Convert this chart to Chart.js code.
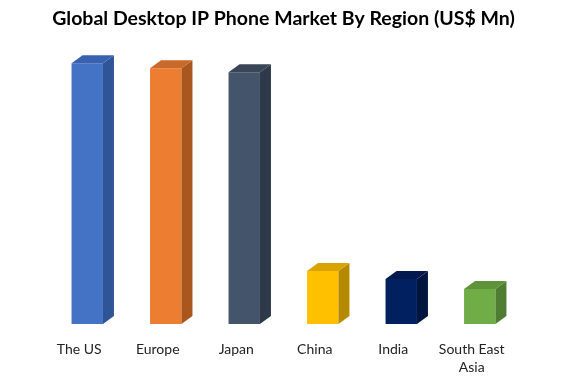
<!DOCTYPE html>
<html><head><meta charset="utf-8">
<script src="https://cdn.jsdelivr.net/npm/chart.js@4"></script>
<style>html,body{margin:0;padding:0;background:#fff}</style>
</head><body>
<canvas id="c" width="576" height="384"></canvas>
<script>
const categories = ['The US', 'Europe', 'Japan', 'China', 'India', ['South East', 'Asia']];
const values = [261, 256, 252, 53, 45, 35];
const titleText = 'Global Desktop IP Phone Market By Region (US$ Mn)';

const frontColors = ['#4472C4', '#ED7D31', '#44546A', '#FFC000', '#002060', '#70AD47'];
const sideColors  = ['#2F5597', '#A9561F', '#2E3949', '#B68A00', '#00163F', '#4F7D31'];
const topColors   = ['#3862B0', '#C9692A', '#394657', '#D9A400', '#001A4F', '#5E9339'];
const DEPTH_X = 11, DEPTH_Y = 8;

const threeD = {
  id: 'threeD',
  afterDatasetsDraw(chart) {
    const ctx = chart.ctx;
    const meta = chart.getDatasetMeta(0);
    meta.data.forEach((bar, i) => {
      const p = bar.getProps(['x', 'y', 'base', 'width'], true);
      const l = p.x - p.width / 2, r = p.x + p.width / 2;
      ctx.save();
      ctx.fillStyle = sideColors[i];
      ctx.beginPath();
      ctx.moveTo(r, p.y); ctx.lineTo(r + DEPTH_X, p.y - DEPTH_Y);
      ctx.lineTo(r + DEPTH_X, p.base - DEPTH_Y); ctx.lineTo(r, p.base);
      ctx.closePath(); ctx.fill();
      ctx.fillStyle = topColors[i];
      ctx.beginPath();
      ctx.moveTo(l, p.y); ctx.lineTo(l + DEPTH_X, p.y - DEPTH_Y);
      ctx.lineTo(r + DEPTH_X, p.y - DEPTH_Y); ctx.lineTo(r, p.y);
      ctx.closePath(); ctx.fill();
      ctx.restore();
    });
  }
};

new Chart(document.getElementById('c'), {
  type: 'bar',
  data: {
    labels: categories,
    datasets: [{ data: values, backgroundColor: frontColors, borderWidth: 0,
      categoryPercentage: 1, barPercentage: 0.4 }]
  },
  options: {
    responsive: false, animation: false,
    layout: { padding: { left: 48, right: 57, top: 0, bottom: 0 } },
    plugins: {
      legend: { display: false }, tooltip: { enabled: false },
      title: { display: true, text: titleText, color: '#000',
        font: { family: 'Lato', size: 19.5, weight: 'bold' },
        padding: { top: 7, bottom: 10 } }
    },
    scales: {
      y: { display: false, min: 0, max: 284 },
      x: { grid: { display: false, drawTicks: false }, border: { display: false },
        afterFit(scale) { scale.height = 60; },
        ticks: { color: '#222', font: { family: 'Lato', size: 14, lineHeight: 1.3 },
          padding: 16, labelOffset: -8, maxRotation: 0, autoSkip: false } }
    }
  },
  plugins: [threeD]
});
</script>
</body></html>
